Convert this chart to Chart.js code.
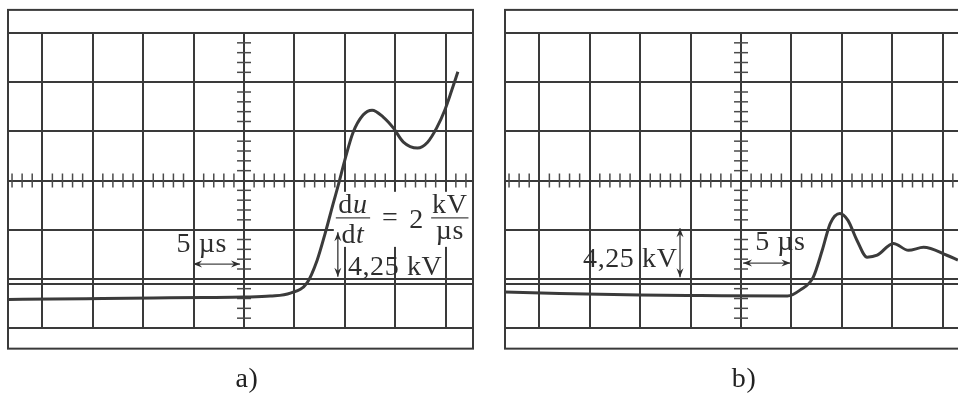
<!DOCTYPE html>
<html>
<head>
<meta charset="utf-8">
<script src="https://cdn.jsdelivr.net/npm/chart.js@4"></script>
<style>
html, body { margin: 0; padding: 0; background: #fff; overflow: hidden; width: 958px; height: 394px; }
.panel { position: absolute; top: 0; width: 480px; height: 394px; }
</style>
</head>
<body>
<div class="panel" style="left:0"><canvas id="scopeA"></canvas></div>
<div class="panel" style="left:497px"><canvas id="scopeB"></canvas></div>
<script>
// graticule: x in µs (5 µs per division), y in divisions
const gridTimes = [-20, -15, -10, -5, 0, 5, 10, 15, 20];
const gridDivs = [-3, -2.1, -2, -1, 0, 1, 2, 3];

// trace a)
const timeA = [-23.4, -19, -14, -9, -4, 0, 2.6, 4.6, 6.25, 7.25, 8.05, 8.85, 9.35, 10.0, 10.8, 11.8, 12.7, 13.8, 14.8, 15.8, 17.2, 18.2, 19.1, 19.9, 20.6, 21.2];
const voltA = [-2.42, -2.41, -2.40, -2.39, -2.38, -2.37, -2.35, -2.29, -2.08, -1.62, -1.07, -0.46, -0.09, 0.42, 0.97, 1.33, 1.43, 1.29, 1.07, 0.78, 0.66, 0.78, 1.07, 1.43, 1.84, 2.21];

// trace b)
const timeB = [-23.4, -18, -10, -4, 4.6, 5.85, 7.15, 8.05, 8.85, 9.8, 10.6, 11.5, 12.5, 13.5, 15.1, 16.6, 18.1, 20.4, 21.5];
const voltB = [-2.27, -2.30, -2.33, -2.34, -2.35, -2.23, -1.97, -1.42, -0.87, -0.67, -0.81, -1.22, -1.56, -1.52, -1.28, -1.42, -1.36, -1.52, -1.62];

const serif = '"Liberation Serif", "DejaVu Serif", serif';
const ink = '#3a3a3a';

function points(t, v) {
  return t.map((x, i) => ({x: x, y: v[i]}));
}

function arrowHead(ctx, x, y, ang) {
  ctx.beginPath();
  ctx.moveTo(x, y);
  ctx.lineTo(x - 9 * Math.cos(ang) + 3.5 * Math.sin(ang), y - 9 * Math.sin(ang) - 3.5 * Math.cos(ang));
  ctx.lineTo(x - 6 * Math.cos(ang), y - 6 * Math.sin(ang));
  ctx.lineTo(x - 9 * Math.cos(ang) - 3.5 * Math.sin(ang), y - 9 * Math.sin(ang) + 3.5 * Math.cos(ang));
  ctx.closePath();
  ctx.fill();
}

// draws text made of runs, some italic, centred on cx
function drawRuns(ctx, runs, cx, y, size) {
  let widths = runs.map(r => {
    ctx.font = (r.italic ? 'italic ' : '') + size + 'px ' + serif;
    return ctx.measureText(r.t).width;
  });
  let x = cx - widths.reduce((a, b) => a + b, 0) / 2;
  ctx.textAlign = 'left';
  runs.forEach((r, i) => {
    ctx.font = (r.italic ? 'italic ' : '') + size + 'px ' + serif;
    ctx.fillText(r.t, x, y);
    x += widths[i];
  });
}

const scopePlugin = {
  id: 'scope',
  beforeDatasetsDraw(chart, args, opts) {
    const ctx = chart.ctx, xs = chart.scales.x, ys = chart.scales.y, area = chart.chartArea;
    ctx.save();
    // outer frame
    ctx.strokeStyle = ink;
    ctx.lineWidth = 2;
    let top = ys.getPixelForValue(opts.frameTop), bot = ys.getPixelForValue(opts.frameBottom);
    ctx.strokeRect(area.left, top, area.right - area.left, bot - top);
    // minor ticks on the centre axes
    ctx.lineWidth = 1.5;
    ctx.strokeStyle = '#4a4a4a';
    let y0 = ys.getPixelForValue(0), x0 = xs.getPixelForValue(0);
    for (let t = -23; t <= 22; t++) {
      if (t % 5 === 0) continue;
      let px = xs.getPixelForValue(t);
      ctx.beginPath(); ctx.moveTo(px, y0 - 7); ctx.lineTo(px, y0 + 7); ctx.stroke();
    }
    for (let k = -15; k <= 15; k++) {
      if (k % 5 === 0) continue;
      let py = ys.getPixelForValue(k / 5);
      ctx.beginPath(); ctx.moveTo(x0 - 7, py); ctx.lineTo(x0 + 7, py); ctx.stroke();
    }
    // white boxes behind labels
    ctx.fillStyle = '#fff';
    (opts.masks || []).forEach(m => {
      let l = xs.getPixelForValue(m.x1), r = xs.getPixelForValue(m.x2);
      let t = ys.getPixelForValue(m.y1), b = ys.getPixelForValue(m.y2);
      ctx.fillRect(l, t, r - l, b - t);
    });
    ctx.restore();
  },
  afterDatasetsDraw(chart, args, opts) {
    const ctx = chart.ctx, xs = chart.scales.x, ys = chart.scales.y;
    ctx.save();
    ctx.fillStyle = '#2e2e2e';
    ctx.strokeStyle = '#444';
    ctx.textBaseline = 'alphabetic';
    if ('letterSpacing' in ctx) ctx.letterSpacing = '0.6px';
    (opts.notes || []).forEach(n => {
      if (n.type === 'text') {
        ctx.font = (n.size || 28) + 'px ' + serif;
        ctx.textAlign = n.align || 'left';
        ctx.fillText(n.text, xs.getPixelForValue(n.x), ys.getPixelForValue(n.y));
      } else if (n.type === 'arrow') {
        let ax = xs.getPixelForValue(n.x1), ay = ys.getPixelForValue(n.y1);
        let bx = xs.getPixelForValue(n.x2), by = ys.getPixelForValue(n.y2);
        ctx.lineWidth = 1.4;
        ctx.beginPath(); ctx.moveTo(ax, ay); ctx.lineTo(bx, by); ctx.stroke();
        let ang = Math.atan2(by - ay, bx - ax);
        arrowHead(ctx, bx, by, ang);
        arrowHead(ctx, ax, ay, ang + Math.PI);
      } else if (n.type === 'frac') {
        let cx = xs.getPixelForValue(n.x), bar = ys.getPixelForValue(n.y);
        let l = xs.getPixelForValue(n.x - n.w / 2), r = xs.getPixelForValue(n.x + n.w / 2);
        ctx.lineWidth = 1.3;
        ctx.beginPath(); ctx.moveTo(l, bar); ctx.lineTo(r, bar); ctx.stroke();
        drawRuns(ctx, n.num, cx, bar - 5, 28);
        drawRuns(ctx, n.den, cx, bar + n.denGap, 28);
      }
    });
    // panel label
    ctx.font = '28px ' + serif;
    ctx.textAlign = 'center';
    ctx.fillStyle = '#222';
    ctx.fillText(opts.label, xs.getPixelForValue(0.3), ys.getPixelForValue(opts.frameBottom) + 38);
    ctx.restore();
  }
};

function makeScope(id, times, volts, opts) {
  new Chart(document.getElementById(id), {
    type: 'line',
    data: {
      datasets: [{
        data: points(times, volts),
        borderColor: '#3b3b3b',
        borderWidth: 3,
        pointRadius: 0,
        cubicInterpolationMode: 'monotone',
        fill: false
      }]
    },
    options: {
      responsive: true,
      maintainAspectRatio: false,
      animation: false,
      events: [],
      layout: {padding: {left: 8, right: 7, top: 33, bottom: 66}},
      scales: {
        x: {
          type: 'linear', min: -23.4, max: 22.7,
          afterBuildTicks: s => { s.ticks = gridTimes.map(v => ({value: v})); },
          ticks: {display: false},
          grid: {color: ink, lineWidth: 2, drawTicks: false},
          border: {display: false}
        },
        y: {
          type: 'linear', min: -3, max: 3,
          afterBuildTicks: s => { s.ticks = gridDivs.map(v => ({value: v})); },
          ticks: {display: false},
          grid: {color: ink, lineWidth: 2, drawTicks: false},
          border: {display: false}
        }
      },
      plugins: {
        legend: {display: false},
        tooltip: {enabled: false},
        scope: opts
      }
    },
    plugins: [scopePlugin]
  });
}

makeScope('scopeA', timeA, voltA, {
  label: 'a)',
  frameTop: 3.47,
  frameBottom: -3.42,
  masks: [{x1: 8.9, x2: 22.6, y1: -0.23, y2: -1.35}],
  notes: [
    {type: 'text', text: '5 µs', x: -6.7, y: -1.45},
    {type: 'arrow', x1: -5.05, y1: -1.70, x2: -0.4, y2: -1.70},
    {type: 'frac', x: 10.8, y: -0.76, w: 3.4, denGap: 25,
      num: [{t: 'd'}, {t: 'u', italic: true}], den: [{t: 'd'}, {t: 't', italic: true}]},
    {type: 'text', text: '=', x: 14.5, y: -0.92, align: 'center'},
    {type: 'text', text: '2', x: 17.1, y: -0.97, align: 'center'},
    {type: 'frac', x: 20.4, y: -0.76, w: 3.7, denGap: 21,
      num: [{t: 'kV'}], den: [{t: 'µs'}]},
    {type: 'arrow', x1: 9.3, y1: -1.05, x2: 9.3, y2: -1.96},
    {type: 'text', text: '4,25 kV', x: 10.3, y: -1.92}
  ]
});

makeScope('scopeB', timeB, voltB, {
  label: 'b)',
  frameTop: 3.47,
  frameBottom: -3.42,
  masks: [],
  notes: [
    {type: 'text', text: '4,25 kV', x: -6.3, y: -1.76, align: 'right'},
    {type: 'arrow', x1: -6.05, y1: -0.97, x2: -6.05, y2: -1.97},
    {type: 'text', text: '5 µs', x: 1.4, y: -1.42},
    {type: 'arrow', x1: 0.2, y1: -1.68, x2: 4.9, y2: -1.68}
  ]
});
</script>
</body>
</html>
